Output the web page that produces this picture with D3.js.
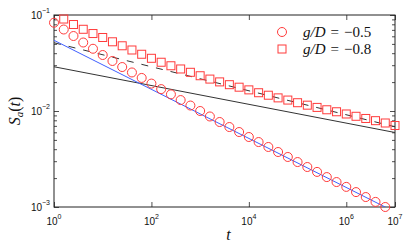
<!DOCTYPE html>
<html>
<head>
<meta charset="utf-8">
<script src="https://cdn.jsdelivr.net/npm/d3@7"></script>
<style>
  body { margin: 0; background: #fff; }
  .tlab { font-family: "Liberation Sans", Arial, sans-serif; font-size: 10px; fill: #111; }
  .math { font-family: "Liberation Serif", "Times New Roman", serif; fill: #111; }
</style>
</head>
<body>
<div id="chart"></div>
<script>
// values (log-log)
// g/D = -0.5 (circles)
var tCircle = [1e0, 1.585e0, 2.512e0, 3.981e0, 6.31e0,
  1e1, 1.585e1, 2.512e1, 3.981e1, 6.31e1,
  1e2, 1.585e2, 2.512e2, 3.981e2, 6.31e2,
  1e3, 1.585e3, 2.512e3, 3.981e3, 6.31e3,
  1e4, 1.585e4, 2.512e4, 3.981e4, 6.31e4,
  1e5, 1.585e5, 2.512e5, 3.981e5, 6.31e5,
  1e6, 1.585e6, 2.512e6, 3.981e6, 6.31e6];
var sCircle = [0.0831, 0.0706, 0.0604, 0.0517, 0.0445,
  0.0383, 0.0332, 0.0287, 0.0252, 0.0221,
  0.0193, 0.0169, 0.0149, 0.0130, 0.0114,
  0.0100, 0.00877, 0.00768, 0.00681, 0.00604,
  0.00536, 0.00475, 0.00422, 0.00374, 0.00332,
  0.00294, 0.00261, 0.00232, 0.00205, 0.00182,
  0.00162, 0.00143, 0.00127, 0.00113, 0.00100];

// g/D = -0.8 (squares), first point at t=1 is off the top of the axes
var tSquare = [1.585e0, 2.512e0, 3.981e0, 6.31e0,
  1e1, 1.585e1, 2.512e1, 3.981e1, 6.31e1,
  1e2, 1.585e2, 2.512e2, 3.981e2, 6.31e2,
  1e3, 1.585e3, 2.512e3, 3.981e3, 6.31e3,
  1e4, 1.585e4, 2.512e4, 3.981e4, 6.31e4,
  1e5, 1.585e5, 2.512e5, 3.981e5, 6.31e5,
  1e6, 1.585e6, 2.512e6, 3.981e6, 6.31e6, 1e7];
var sSquare = [0.0908, 0.0796, 0.0710, 0.0641,
  0.0583, 0.0526, 0.0478, 0.0432, 0.0390,
  0.0354, 0.0322, 0.0296, 0.0274, 0.0253,
  0.0233, 0.0215, 0.0201, 0.0188, 0.0177,
  0.0166, 0.0155, 0.0146, 0.0137, 0.0130,
  0.0122, 0.0115, 0.0109, 0.0103, 0.00982,
  0.00931, 0.00881, 0.00836, 0.00793, 0.00750, 0.00706];

// power-law guide lines
var tFit = [1, 1e7];
var sBlue = [0.0545, 0.000887];
var sSolid = [0.0289, 0.00597];
var sDashed = [0.0514, 0.00685];

// ticks
var xTicks = [1e0, 1e2, 1e4, 1e6, 1e7];
var xTickExp = ["0", "2", "4", "6", "7"];
var yTicks = [1e-3, 1e-2, 1e-1];
var yTickExp = ["\u22123", "\u22122", "\u22121"];
var legendText = ["\u22120.5", "\u22120.8"];

var svgWidth = 415, svgHeight = 248;
var margin = { top: 15, right: 20, bottom: 41, left: 54 };
var width = svgWidth - margin.left - margin.right;
var height = svgHeight - margin.top - margin.bottom;

var svg = d3.select("#chart").append("svg")
  .attr("width", svgWidth)
  .attr("height", svgHeight);

var chartGroup = svg.append("g")
  .attr("transform", `translate(${margin.left}, ${margin.top})`);

var xScale = d3.scaleLog().domain([1, 1e7]).range([0, width]);
var yScale = d3.scaleLog().domain([1e-3, 1e-1]).range([height, 0]);

svg.append("defs").append("clipPath").attr("id", "clip")
  .append("rect").attr("width", width).attr("height", height);

// minor y ticks (2..9 x 10^k)
var yMinor = yScale.ticks().filter(function(d) { return yTicks.indexOf(d) < 0; });

function styleAxis(g) {
  g.select(".domain").remove();
  g.selectAll("line").attr("stroke", "#222").attr("stroke-width", 0.8);
}

// ticks, all pointing in
chartGroup.append("g").attr("transform", `translate(0, ${height})`)
  .call(d3.axisBottom(xScale).tickValues(xTicks).tickSizeInner(-5).tickSizeOuter(0).tickFormat(""))
  .call(styleAxis);
chartGroup.append("g")
  .call(d3.axisTop(xScale).tickValues(xTicks).tickSizeInner(-5).tickSizeOuter(0).tickFormat(""))
  .call(styleAxis);
chartGroup.append("g")
  .call(d3.axisLeft(yScale).tickValues(yTicks).tickSizeInner(-5).tickSizeOuter(0).tickFormat(""))
  .call(styleAxis);
chartGroup.append("g")
  .call(d3.axisLeft(yScale).tickValues(yMinor).tickSizeInner(-3).tickSizeOuter(0).tickFormat(""))
  .call(styleAxis);
chartGroup.append("g").attr("transform", `translate(${width}, 0)`)
  .call(d3.axisRight(yScale).tickValues(yTicks).tickSizeInner(-5).tickSizeOuter(0).tickFormat(""))
  .call(styleAxis);
chartGroup.append("g").attr("transform", `translate(${width}, 0)`)
  .call(d3.axisRight(yScale).tickValues(yMinor).tickSizeInner(-3).tickSizeOuter(0).tickFormat(""))
  .call(styleAxis);

// box
chartGroup.append("rect")
  .attr("width", width).attr("height", height)
  .attr("fill", "none").attr("stroke", "#222").attr("stroke-width", 1);

// x tick labels 10^n
var xl = chartGroup.selectAll(".xlab").data(xTicks).enter()
  .append("text").attr("class", "tlab")
  .attr("x", d => xScale(d))
  .attr("y", height + 18)
  .attr("text-anchor", "middle");
xl.append("tspan").text("10");
xl.append("tspan").attr("dy", -6).attr("font-size", "7px").text((d, i) => xTickExp[i]);

// y tick labels 10^-n
var yl = chartGroup.selectAll(".ylab").data(yTicks).enter()
  .append("text").attr("class", "tlab")
  .attr("x", -4)
  .attr("y", d => yScale(d) + 4)
  .attr("text-anchor", "end");
yl.append("tspan").text("10");
yl.append("tspan").attr("dy", -6).attr("font-size", "7px").text((d, i) => yTickExp[i]);

// guide lines
var line = d3.line().x(d => xScale(d[0])).y(d => yScale(d[1]));
var plot = chartGroup.append("g").attr("clip-path", "url(#clip)");

plot.append("path").datum(d3.zip(tFit, sSolid))
  .attr("d", line).attr("fill", "none").attr("stroke", "#333").attr("stroke-width", 1);
plot.append("path").datum(d3.zip(tFit, sDashed))
  .attr("d", line).attr("fill", "none").attr("stroke", "#333").attr("stroke-width", 1)
  .attr("stroke-dasharray", "7,8");
plot.append("path").datum(d3.zip(tFit, sBlue))
  .attr("d", line).attr("fill", "none").attr("stroke", "#3f5fff").attr("stroke-width", 1);

// markers
var red = "#ff3b3b";
chartGroup.append("g").selectAll("circle")
  .data(d3.zip(tCircle, sCircle)).enter()
  .append("circle")
  .attr("cx", d => xScale(d[0]))
  .attr("cy", d => yScale(d[1]))
  .attr("r", 4.5)
  .attr("fill", "none").attr("stroke", red).attr("stroke-width", 1);

chartGroup.append("g").selectAll("rect")
  .data(d3.zip(tSquare, sSquare)).enter()
  .append("rect")
  .attr("x", d => xScale(d[0]) - 4)
  .attr("y", d => yScale(d[1]) - 4)
  .attr("width", 8).attr("height", 8)
  .attr("fill", "none").attr("stroke", red).attr("stroke-width", 1);

// legend
var legend = svg.append("g");
legend.append("circle").attr("cx", 282).attr("cy", 32).attr("r", 4.5)
  .attr("fill", "none").attr("stroke", red).attr("stroke-width", 1);
legend.append("rect").attr("x", 278).attr("y", 45).attr("width", 8).attr("height", 8)
  .attr("fill", "none").attr("stroke", red).attr("stroke-width", 1);
legendText.forEach(function(v, i) {
  var t = legend.append("text").attr("class", "math")
    .attr("x", 303).attr("y", 37 + i * 17).attr("font-size", "15px");
  t.append("tspan").attr("font-style", "italic").text("g/D");
  t.append("tspan").attr("dx", 5).text("=");
  t.append("tspan").attr("dx", 5).text(v);
});

// axis labels
svg.append("text").attr("class", "math")
  .attr("x", margin.left + width / 2 + 4)
  .attr("y", 240)
  .attr("text-anchor", "middle")
  .attr("font-size", "16px").attr("font-style", "italic")
  .text("t");

var yLab = svg.append("text").attr("class", "math")
  .attr("transform", `translate(20, ${margin.top + height / 2}) rotate(-90)`)
  .attr("text-anchor", "middle")
  .attr("font-size", "16px");
yLab.append("tspan").attr("font-style", "italic").text("S");
yLab.append("tspan").attr("font-style", "italic").attr("font-size", "11px").attr("dy", 3).text("a");
yLab.append("tspan").attr("dy", -3).text("(");
yLab.append("tspan").attr("font-style", "italic").text("t");
yLab.append("tspan").text(")");
</script>
</body>
</html>
